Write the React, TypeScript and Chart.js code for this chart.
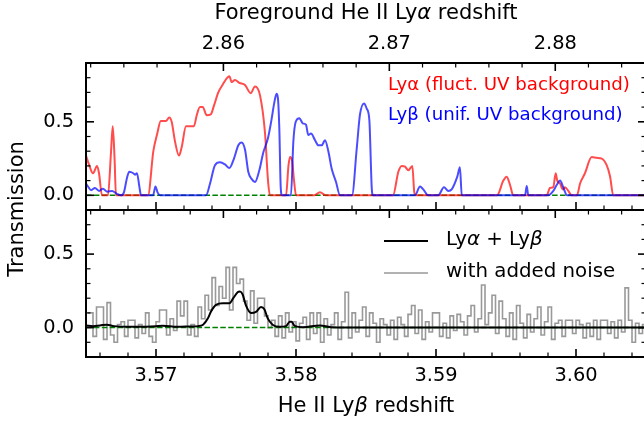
import React, { useEffect, useRef } from 'react';
import { Chart, registerables } from 'chart.js';

Chart.register(...registerables);

// ---------------- data ----------------
const Z_MIN = 3.565;
const Z_MAX = 3.605;
const alphaOf = (zb: number) => ((1 + zb) * 27) / 32 - 1; // Ly-beta redshift -> foreground Ly-alpha redshift

const betaTicks = [3.57, 3.58, 3.59, 3.6];
const alphaTicks = [2.86, 2.87, 2.88];
const transTicks = [0, 0.5];

// Lyα, fluctuating UV background (top panel, red)
const redZ = [3.565, 3.56521, 3.5655, 3.56579, 3.56593, 3.56614, 3.56657, 3.56679, 3.56691, 3.56704, 3.56714,
  3.56943, 3.56981, 3.57009, 3.57034, 3.57071, 3.57095, 3.57112, 3.57136, 3.57164, 3.57184, 3.57214, 3.57271,
  3.57291, 3.57314, 3.57334, 3.57362, 3.57391, 3.57414, 3.57445, 3.57481, 3.57505, 3.57524, 3.57541, 3.57564,
  3.57595, 3.57636, 3.57676, 3.57707, 3.57743, 3.57779, 3.578, 3.57814, 3.57929, 3.57946, 3.57957, 3.57971,
  3.57986, 3.58, 3.58129, 3.58171, 3.58214, 3.58693, 3.58731, 3.58755, 3.58779, 3.58802, 3.58831, 3.58845,
  3.58857, 3.59436, 3.59481, 3.59505, 3.59529, 3.59552, 3.59791, 3.59814, 3.59838, 3.59855, 3.59866, 3.59886,
  3.59905, 3.59921, 3.59945, 3.59969, 3.60007, 3.60029, 3.60064, 3.60112, 3.60148, 3.60184, 3.60219, 3.60243,
  3.60266, 3.605];
const redT = [0.27, 0.21, 0.15, 0.2, 0.15, 0.0, 0.0, 0.3, 0.47, 0.25, 0.0,
  0.0, 0.3, 0.42, 0.505, 0.505, 0.53, 0.5, 0.365, 0.27, 0.33, 0.47, 0.47,
  0.545, 0.6, 0.6, 0.545, 0.55, 0.61, 0.7, 0.76, 0.795, 0.81, 0.77, 0.785,
  0.765, 0.75, 0.695, 0.74, 0.68, 0.42, 0.1, 0.0, 0.0, 0.2, 0.26, 0.24,
  0.1, 0.0, 0.0, 0.02, 0.0, 0.0, 0.16, 0.2, 0.195, 0.17, 0.2, 0.02,
  0.0, 0.0, 0.1, 0.127, 0.07, 0.0, 0.0, 0.05, 0.055, 0.15, 0.1, 0.08,
  0.04, 0.055, 0.03, 0.0, 0.0, 0.08, 0.15, 0.26, 0.255, 0.25, 0.205, 0.13,
  0.0, 0.0];

// Lyβ, uniform UV background (top panel, blue)
const blueZ = [3.565, 3.56514, 3.56536, 3.56564, 3.56593, 3.56621, 3.5665, 3.56686, 3.56721, 3.5675, 3.56771,
  3.56793, 3.56809, 3.56838, 3.5685, 3.56864, 3.56881, 3.56893, 3.56979, 3.56996, 3.57011, 3.57029, 3.57357,
  3.57386, 3.57421, 3.57457, 3.57493, 3.57524, 3.57557, 3.57588, 3.57612, 3.57636, 3.57659, 3.57684, 3.57707,
  3.57738, 3.57766, 3.578, 3.57826, 3.57843, 3.57861, 3.57871, 3.57881, 3.57891, 3.579, 3.57964, 3.57981,
  3.57998, 3.58024, 3.58048, 3.58071, 3.58088, 3.58107, 3.58136, 3.58159, 3.58184, 3.58207, 3.58231, 3.58255,
  3.58286, 3.58314, 3.584, 3.58434, 3.58457, 3.58486, 3.58505, 3.58524, 3.58541, 3.5855, 3.5885, 3.58886,
  3.58909, 3.58945, 3.59016, 3.59057, 3.59088, 3.59112, 3.59152, 3.59171, 3.59184, 3.59636, 3.59648, 3.59659,
  3.59802, 3.59838, 3.59862, 3.59886, 3.59909, 3.59936, 3.605];
const blueT = [0.08, 0.06, 0.035, 0.05, 0.03, 0.045, 0.025, 0.03, 0.01, 0.0, 0.02,
  0.12, 0.16, 0.15, 0.14, 0.15, 0.06, 0.0, 0.0, 0.06, 0.02, 0.0, 0.0,
  0.08, 0.205, 0.225, 0.21, 0.185, 0.25, 0.34, 0.36, 0.31, 0.16, 0.11, 0.09,
  0.17, 0.29, 0.39, 0.52, 0.62, 0.69, 0.66, 0.45, 0.05, 0.0, 0.0, 0.365,
  0.5, 0.525, 0.49, 0.48, 0.41, 0.42, 0.375, 0.34, 0.34, 0.375, 0.3, 0.18,
  0.09, 0.0, 0.0, 0.32, 0.55, 0.625, 0.59, 0.51, 0.05, 0.0, 0.0, 0.06,
  0.04, 0.0, 0.0, 0.055, 0.03, 0.04, 0.127, 0.19, 0.0, 0.0, 0.063, 0.0,
  0.0, 0.03, 0.07, 0.1, 0.055, 0.0, 0.0];

// Lyα + Lyβ (bottom panel, black)
const sumZ = [3.565, 3.5655, 3.566, 3.5665, 3.567, 3.568, 3.569, 3.57, 3.5705, 3.5715, 3.5725, 3.573, 3.57336,
  3.57371, 3.57393, 3.57429, 3.57476, 3.57524, 3.57552, 3.57583, 3.576, 3.57619, 3.57643, 3.57679, 3.57714,
  3.5775, 3.57774, 3.57798, 3.57833, 3.57881, 3.57929, 3.57955, 3.57969, 3.5799, 3.5805, 3.58171, 3.5825,
  3.585, 3.605];
const sumT = [0.015, 0.01, 0.015, 0.02, 0.01, 0.005, 0.005, 0.01, 0.012, 0.005, 0.008, 0.01, 0.02,
  0.063, 0.11, 0.155, 0.165, 0.165, 0.2, 0.24, 0.245, 0.225, 0.15, 0.1, 0.107,
  0.14, 0.125, 0.063, 0.02, 0.005, 0.01, 0.04, 0.04, 0.012, 0.003, 0.015, 0.003,
  0.0, 0.0];

// with added noise (bottom panel, grey steps), on the pixel grid
const noiseStart = 3.565125;
const noiseStep = 0.00025;
const noiseT = [0.1, 0.1, -0.06, 0.14, 0.14, -0.08, 0.17, -0.05, -0.1, 0.02,
  0.04, -0.06, 0.05, 0.05, -0.07, 0.02, -0.04, 0.1, -0.06, -0.1,
  0.04, 0.12, 0.12, -0.05, 0.06, -0.02, 0.18, 0.08, 0.18, -0.05,
  0.02, -0.06, 0.14, 0.06, 0.22, 0.12, 0.34, 0.15, 0.28, 0.2,
  0.41, 0.12, 0.41, 0.3, 0.33, 0.18, 0.05, 0.25, 0.03, 0.2,
  0.2, 0.08, 0.0, 0.05, -0.06, 0.08, -0.07, 0.1, -0.03, 0.04,
  -0.09, 0.03, 0.07, -0.08, 0.1, -0.04, 0.1, -0.1, 0.06, -0.05,
  0.02, 0.1, -0.08, 0.04, 0.24, -0.07, 0.1, -0.03, 0.05, 0.14,
  -0.06, 0.1, 0.03, -0.1, 0.06, 0.02, -0.05, 0.05, -0.08, 0.07,
  0.02, -0.06, 0.09, 0.15, -0.04, 0.12, -0.08, 0.04, -0.03, 0.1,
  0.1, -0.06, 0.03, -0.07, 0.08, -0.02, 0.09, 0.04, -0.05, 0.08,
  0.15, -0.03, 0.06, 0.29, 0.02, 0.1, 0.22, -0.04, 0.18, 0.06,
  -0.06, 0.1, -0.08, 0.15, 0.03, -0.07, 0.09, -0.03, 0.06, 0.14,
  -0.05, 0.04, 0.14, -0.08, 0.03, 0.05, -0.06, 0.05, 0.05, -0.04,
  0.05, 0.02, -0.07, 0.03, -0.06, 0.05, -0.08, 0.05, 0.05, -0.04,
  0.04, -0.07, 0.05, -0.03, 0.27, 0.05, -0.1, 0.03, -0.04, 0.02];

// ---------------- styling ----------------
const FONT = '"DejaVu Sans", "Liberation Sans", sans-serif';
const TICK_FS = 19.4;
const LABEL_FS = 21;
const TOPLEG_FS = 18.2;
const BOTLEG_FS = 19.8;
const CANVAS_W = 660;
const CANVAS_H = 429;
const GREY = 'rgba(110,110,110,0.7)';

const pts = (zs: number[], ts: number[]) => zs.map((z, i) => ({ x: z, y: ts[i] }));

type Seg = { t: string; it?: boolean };
function drawRich(ctx: CanvasRenderingContext2D, segs: Seg[], x: number, y: number, align: 'left' | 'center', color: string, fs: number) {
  ctx.fillStyle = color;
  ctx.textBaseline = 'middle';
  ctx.textAlign = 'left';
  const widths = segs.map((s) => {
    ctx.font = `${s.it ? 'italic ' : ''}${fs}px ${FONT}`;
    return ctx.measureText(s.t).width;
  });
  const total = widths.reduce((a, b) => a + b, 0);
  let cx = align === 'center' ? x - total / 2 : x;
  segs.forEach((s, i) => {
    ctx.font = `${s.it ? 'italic ' : ''}${fs}px ${FONT}`;
    ctx.fillText(s.t, cx, y);
    cx += widths[i];
  });
}

const decor = {
  id: 'decor',
  afterDatasetsDraw(chart: any) {
    const { ctx, chartArea: a, scales } = chart;
    const xb = scales.x;
    const xa = scales.xTop;
    const yt = scales.yTop;
    const yb = scales.yBot;
    const mid = yt.bottom;
    const MAJ = 8;
    const MIN = 4.5;
    ctx.save();
    ctx.strokeStyle = '#000';
    const seg = (x1: number, y1: number, x2: number, y2: number, w: number) => {
      ctx.lineWidth = w;
      ctx.beginPath();
      ctx.moveTo(x1, y1);
      ctx.lineTo(x2, y2);
      ctx.stroke();
    };
    const isMajor = (v: number, step: number) => Math.abs(v / step - Math.round(v / step)) < 1e-4;
    // Ly-beta redshift ticks: bottom spine and top panel's lower edge, pointing up
    for (let k = 0; k < 40; k++) {
      const v = 3.566 + 0.002 * k;
      if (v > Z_MAX) break;
      const maj = isMajor(v, 0.01);
      const L = maj ? MAJ : MIN;
      const w = maj ? 1.6 : 1.2;
      const px = xb.getPixelForValue(v);
      seg(px, a.bottom, px, a.bottom - L, w);
      seg(px, mid, px, mid - L, w);
    }
    // foreground Ly-alpha redshift ticks: top spine and bottom panel's upper edge, pointing down
    const aMax = alphaOf(Z_MAX);
    for (let k = 0; k < 40; k++) {
      const v = 2.852 + 0.002 * k;
      if (v > aMax) break;
      const maj = isMajor(v, 0.01);
      const L = maj ? MAJ : MIN;
      const w = maj ? 1.6 : 1.2;
      const px = xa.getPixelForValue(v);
      seg(px, a.top, px, a.top + L, w);
      seg(px, mid, px, mid + L, w);
    }
    // y ticks
    const yTicks = (scale: any, lo: number) => {
      for (let k = 1; k < 10; k++) {
        const v = lo + 0.1 * k;
        const maj = isMajor(v, 0.5);
        const L = maj ? MAJ : MIN;
        const w = maj ? 1.6 : 1.2;
        const py = scale.getPixelForValue(v);
        seg(a.left, py, a.left + L, py, w);
        seg(a.right, py, a.right - L, py, w);
      }
    };
    yTicks(yt, -0.1);
    yTicks(yb, -0.2);
    // spines
    ctx.lineWidth = 2;
    ctx.strokeRect(a.left, a.top, a.right - a.left, a.bottom - a.top);
    seg(a.left, mid, a.right, mid, 2);
    ctx.restore();
  },
  afterDraw(chart: any) {
    const { ctx, chartArea: a } = chart;
    const cx = (a.left + a.right) / 2;
    ctx.save();
    drawRich(ctx, [{ t: 'Foreground He II Ly' }, { t: 'α', it: true }, { t: ' redshift' }], cx, 14, 'center', '#000', LABEL_FS);
    drawRich(ctx, [{ t: 'He II Ly' }, { t: 'β', it: true }, { t: ' redshift' }], cx, 407, 'center', '#000', LABEL_FS);
    // y title
    ctx.save();
    ctx.translate(18, (a.top + a.bottom) / 2 - 1);
    ctx.rotate(-Math.PI / 2);
    ctx.font = `${LABEL_FS}px ${FONT}`;
    ctx.fillStyle = '#000';
    ctx.textAlign = 'center';
    ctx.textBaseline = 'middle';
    ctx.fillText('Transmission', 0, 0);
    ctx.restore();
    // top legend
    drawRich(ctx, [{ t: 'Lyα (fluct. UV background)' }], 388, 85, 'left', '#ff0000', TOPLEG_FS);
    drawRich(ctx, [{ t: 'Lyβ (unif. UV background)' }], 388, 115, 'left', '#0000ff', TOPLEG_FS);
    // bottom legend
    ctx.lineWidth = 2;
    ctx.strokeStyle = '#000';
    ctx.beginPath();
    ctx.moveTo(384, 241);
    ctx.lineTo(428, 241);
    ctx.stroke();
    ctx.lineWidth = 1.6;
    ctx.strokeStyle = GREY;
    ctx.beginPath();
    ctx.moveTo(384, 273);
    ctx.lineTo(428, 273);
    ctx.stroke();
    drawRich(ctx, [{ t: 'Ly' }, { t: 'α', it: true }, { t: ' + Ly' }, { t: 'β', it: true }], 446, 240, 'left', '#000', BOTLEG_FS);
    drawRich(ctx, [{ t: 'with added noise' }], 446, 272, 'left', '#000', BOTLEG_FS);
    ctx.restore();
  },
};

export default function App() {
  const ref = useRef<HTMLCanvasElement | null>(null);
  useEffect(() => {
    if (!ref.current) return;
    Chart.defaults.font.family = FONT;
    Chart.defaults.font.size = TICK_FS;
    Chart.defaults.color = '#000';
    const noisePts = noiseT.map((v, i) => ({ x: noiseStart + noiseStep * i, y: v }));
    const zeroLine = [{ x: Z_MIN, y: 0 }, { x: Z_MAX, y: 0 }];
    const line = { pointRadius: 0, fill: false, cubicInterpolationMode: 'monotone' as const, tension: 0.4 };
    const tickFont = { size: TICK_FS, family: FONT };
    const chart = new Chart(ref.current, {
      type: 'line',
      data: {
        datasets: [
          { ...line, data: pts(blueZ, blueT), borderColor: 'rgba(0,0,255,0.7)', borderWidth: 2, yAxisID: 'yTop' },
          { ...line, data: pts(redZ, redT), borderColor: 'rgba(255,0,0,0.7)', borderWidth: 2, yAxisID: 'yTop' },
          { pointRadius: 0, data: zeroLine, borderColor: '#008000', borderWidth: 1.5, borderDash: [5.5, 2.4], yAxisID: 'yTop' },
          { ...line, tension: 0.2, data: pts(sumZ, sumT), borderColor: '#000', borderWidth: 2, yAxisID: 'yBot' },
          { pointRadius: 0, data: zeroLine, borderColor: '#008000', borderWidth: 1.5, borderDash: [5.5, 2.4], yAxisID: 'yBot' },
          { pointRadius: 0, data: noisePts, stepped: 'middle', borderColor: GREY, borderWidth: 1.6, yAxisID: 'yBot' },
        ],
      },
      options: {
        animation: false,
        responsive: false,
        maintainAspectRatio: false,
        devicePixelRatio: 1,
        events: [],
        layout: { padding: { left: 0, right: CANVAS_W - 646, top: 0, bottom: 0 } },
        plugins: { legend: { display: false }, tooltip: { enabled: false }, title: { display: false } },
        scales: {
          x: {
            type: 'linear',
            position: 'bottom',
            min: Z_MIN,
            max: Z_MAX,
            grid: { display: false, drawTicks: false },
            border: { display: false },
            afterBuildTicks: (s: any) => { s.ticks = betaTicks.map((v) => ({ value: v })); },
            ticks: { padding: 7, maxRotation: 0, autoSkip: false, callback: (v: any) => Number(v).toFixed(2), font: tickFont },
            afterFit: (s: any) => { s.height = CANVAS_H - 357; },
          },
          xTop: {
            type: 'linear',
            position: 'top',
            min: alphaOf(Z_MIN),
            max: alphaOf(Z_MAX),
            grid: { display: false, drawTicks: false },
            border: { display: false },
            afterBuildTicks: (s: any) => { s.ticks = alphaTicks.map((v) => ({ value: v })); },
            ticks: { padding: 7, maxRotation: 0, autoSkip: false, callback: (v: any) => Number(v).toFixed(2), font: tickFont },
            afterFit: (s: any) => { s.height = 63; },
          },
          yBot: {
            type: 'linear',
            position: 'left',
            stack: 'panels',
            stackWeight: 1,
            min: -0.2,
            max: 0.8,
            grid: { display: false, drawTicks: false },
            border: { display: false },
            afterBuildTicks: (s: any) => { s.ticks = transTicks.map((v) => ({ value: v })); },
            ticks: { padding: 12, callback: (v: any) => Number(v).toFixed(1), font: tickFont },
            afterFit: (s: any) => { s.width = 86; },
          },
          yTop: {
            type: 'linear',
            position: 'left',
            stack: 'panels',
            stackWeight: 1,
            min: -0.1,
            max: 0.9,
            grid: { display: false, drawTicks: false },
            border: { display: false },
            afterBuildTicks: (s: any) => { s.ticks = transTicks.map((v) => ({ value: v })); },
            ticks: { padding: 12, callback: (v: any) => Number(v).toFixed(1), font: tickFont },
            afterFit: (s: any) => { s.width = 86; },
          },
        },
      } as any,
      plugins: [decor],
    });
    return () => chart.destroy();
  }, []);
  return (
    <div style={{ position: 'fixed', left: 0, top: 0, width: 644, height: 429, overflow: 'hidden', background: '#fff' }}>
      <canvas ref={ref} width={CANVAS_W} height={CANVAS_H} style={{ display: 'block', width: CANVAS_W, height: CANVAS_H }} />
    </div>
  );
}
